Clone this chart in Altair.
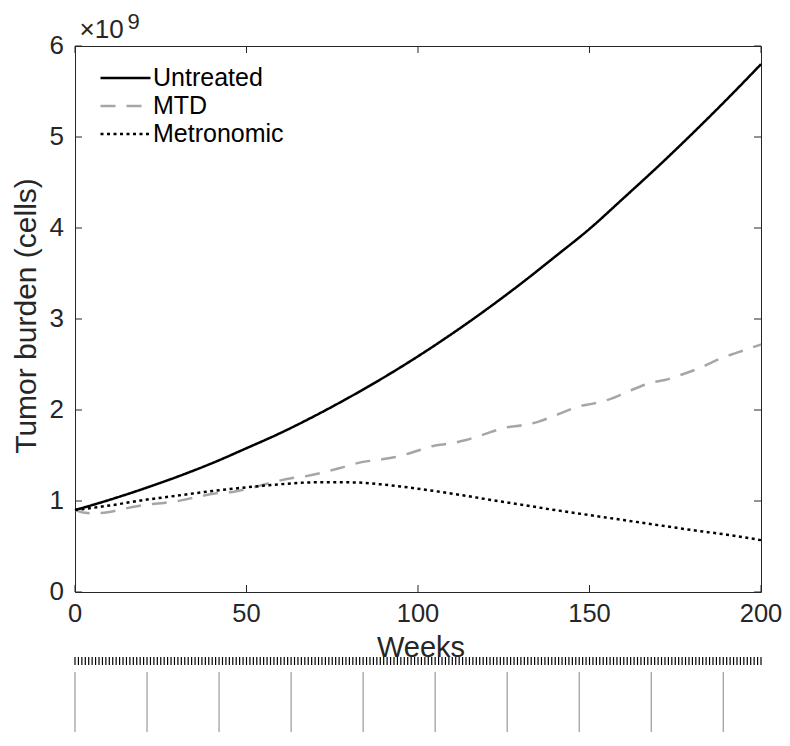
import altair as alt
import pandas as pd

# ---- data (tumor burden in units of 1e9 cells) ----
untreated_weeks = [0, 10, 20, 30, 40, 50, 60, 70, 80, 90, 100,
                   110, 120, 130, 140, 150, 160, 170, 180, 190, 200]
untreated_cells = [0.90, 1.012, 1.135, 1.269, 1.416, 1.58, 1.749, 1.937, 2.14, 2.357, 2.59,
                   2.84, 3.106, 3.388, 3.686, 3.99, 4.331, 4.677, 5.038, 5.412, 5.80]

mtd_weeks = [0, 3, 6, 10, 15, 21, 25, 30, 35, 42, 46, 50, 56, 63, 67, 72, 77, 84, 88, 93, 98,
             105, 109, 114, 119, 126, 130, 135, 140, 147, 151, 156, 161, 168, 172, 177, 182,
             189, 193, 200]
mtd_cells = [0.90, 0.87, 0.865, 0.88, 0.92, 0.96, 0.975, 1.00, 1.04, 1.09, 1.10, 1.13, 1.19,
             1.25, 1.27, 1.31, 1.36, 1.43, 1.45, 1.48, 1.53, 1.61, 1.63, 1.67, 1.73, 1.81,
             1.83, 1.87, 1.94, 2.04, 2.07, 2.12, 2.20, 2.30, 2.33, 2.39, 2.46, 2.58, 2.63, 2.72]

metronomic_weeks = [0, 10, 20, 30, 40, 50, 60, 70, 80, 90, 100,
                    110, 120, 130, 140, 150, 160, 170, 180, 190, 200]
metronomic_cells = [0.90, 0.95, 1.01, 1.06, 1.11, 1.15, 1.185, 1.205, 1.205, 1.18, 1.135,
                    1.08, 1.02, 0.96, 0.90, 0.845, 0.79, 0.735, 0.68, 0.63, 0.57]

series_names = ["Untreated", "MTD", "Metronomic"]
series_colors = ["#000000", "#a6a6a6", "#000000"]

# dosing schedules (weeks)
mtd_dose_weeks = [0, 21, 42, 63, 84, 105, 126, 147, 168, 189]
metronomic_dose_weeks = [
    0, 1, 2, 3, 4, 5, 6, 7, 8, 9, 10, 11, 12, 13, 14, 15, 16, 17, 18, 19,
    20, 21, 22, 23, 24, 25, 26, 27, 28, 29, 30, 31, 32, 33, 34, 35, 36, 37, 38, 39,
    40, 41, 42, 43, 44, 45, 46, 47, 48, 49, 50, 51, 52, 53, 54, 55, 56, 57, 58, 59,
    60, 61, 62, 63, 64, 65, 66, 67, 68, 69, 70, 71, 72, 73, 74, 75, 76, 77, 78, 79,
    80, 81, 82, 83, 84, 85, 86, 87, 88, 89, 90, 91, 92, 93, 94, 95, 96, 97, 98, 99,
    100, 101, 102, 103, 104, 105, 106, 107, 108, 109, 110, 111, 112, 113, 114, 115,
    116, 117, 118, 119, 120, 121, 122, 123, 124, 125, 126, 127, 128, 129, 130, 131,
    132, 133, 134, 135, 136, 137, 138, 139, 140, 141, 142, 143, 144, 145, 146, 147,
    148, 149, 150, 151, 152, 153, 154, 155, 156, 157, 158, 159, 160, 161, 162, 163,
    164, 165, 166, 167, 168, 169, 170, 171, 172, 173, 174, 175, 176, 177, 178, 179,
    180, 181, 182, 183, 184, 185, 186, 187, 188, 189, 190, 191, 192, 193, 194, 195,
    196, 197, 198, 199, 200]

x_ticks = [0, 50, 100, 150, 200]
y_ticks = [0, 1, 2, 3, 4, 5, 6]
x_title = "Weeks"
y_title = "Tumor burden (cells)"
sci_base = "×10"
sci_exp = "9"

# ---- tables ----
rows = []
for name, wk, vals in zip(series_names,
                          [untreated_weeks, mtd_weeks, metronomic_weeks],
                          [untreated_cells, mtd_cells, metronomic_cells]):
    for w, v in zip(wk, vals):
        rows.append({"week": w, "cells": v, "series": name})
df = pd.DataFrame(rows)

W, H = 686, 546
FONT = "Liberation Sans"
AX = "#262626"
TL = 7  # inward tick length

xscale = alt.Scale(domain=[0, 200], nice=False, zero=False)
yscale = alt.Scale(domain=[0, 6], nice=False, zero=True)

legend = alt.Legend(title=None, orient="none", legendX=24, legendY=18,
                    symbolType="stroke", symbolSize=2500, symbolStrokeWidth=2.5,
                    clipHeight=28, labelFontSize=25, labelFont=FONT, labelColor="#000000",
                    labelOffset=1, labelLimit=400, rowPadding=0, padding=0)

lines = alt.Chart(df).mark_line(strokeWidth=2.5, interpolate="monotone").encode(
    x=alt.X("week:Q", scale=xscale, axis=None),
    y=alt.Y("cells:Q", scale=yscale, axis=None),
    color=alt.Color("series:N", scale=alt.Scale(domain=series_names, range=series_colors),
                    legend=legend),
    strokeDash=alt.StrokeDash("series:N",
                              scale=alt.Scale(domain=series_names,
                                              range=[[1, 0], [15, 11], [3, 3.5]]),
                              legend=legend),
)

xt = pd.DataFrame({"week": x_ticks, "label": [str(v) for v in x_ticks]})
yt = pd.DataFrame({"cells": y_ticks, "label": [str(v) for v in y_ticks]})

def xrule(data, y1, y2, color, sw):
    return alt.Chart(data).mark_rule(color=color, strokeWidth=sw).encode(
        x=alt.X("week:Q", scale=xscale, axis=None), y=alt.value(y1), y2=alt.value(y2))

def yrule(data, x1, x2):
    return alt.Chart(data).mark_rule(color=AX, strokeWidth=1).encode(
        y=alt.Y("cells:Q", scale=yscale, axis=None), x=alt.value(x1), x2=alt.value(x2))

bottom_ticks = xrule(xt, H, H - TL, AX, 1)
top_ticks = xrule(xt, 0, TL, AX, 1)
left_ticks = yrule(yt, 0, TL)
right_ticks = yrule(yt, W, W - TL)

# tick labels, placed through the scales
x_labels = alt.Chart(xt).mark_text(
    align="center", baseline="alphabetic", fontSize=25.5, font=FONT, color=AX
).encode(x=alt.X("week:Q", scale=xscale, axis=None), y=alt.value(H + 30), text="label:N")
y_labels = alt.Chart(yt).mark_text(
    align="right", baseline="middle", fontSize=26, font=FONT, color=AX
).encode(y=alt.Y("cells:Q", scale=yscale, axis=None), x=alt.value(-11), text="label:N")

x_title_mark = alt.Chart(pd.DataFrame({"t": [x_title]})).mark_text(
    align="center", baseline="alphabetic", fontSize=29, font=FONT, color=AX
).encode(text="t:N", x=alt.value(W / 2 + 3), y=alt.value(H + 65))
y_title_mark = alt.Chart(pd.DataFrame({"t": [y_title]})).mark_text(
    align="center", baseline="alphabetic", fontSize=30, font=FONT, color=AX, angle=270
).encode(text="t:N", x=alt.value(-39), y=alt.value(H / 2 - 3))

met_doses = xrule(pd.DataFrame({"week": metronomic_dose_weeks}), 611, 619, "#000000", 1.2)
mtd_doses = xrule(pd.DataFrame({"week": mtd_dose_weeks}), 626, 720, "#999999", 1.2)

sci = alt.Chart(pd.DataFrame({"t": [sci_base]})).mark_text(
    align="left", baseline="alphabetic", fontSize=26, font=FONT, color=AX
).encode(text="t:N", x=alt.value(4.5), y=alt.value(-8))
sci9 = alt.Chart(pd.DataFrame({"t": [sci_exp]})).mark_text(
    align="left", baseline="alphabetic", fontSize=22, font=FONT, color=AX
).encode(text="t:N", x=alt.value(52.5), y=alt.value(-17))

chart = alt.layer(
    x_title_mark, mtd_doses, met_doses, bottom_ticks, top_ticks, left_ticks, right_ticks,
    x_labels, y_labels, y_title_mark, lines, sci, sci9
).properties(
    width=W, height=H,
    padding={"left": 67, "top": 38, "right": 21, "bottom": 140},
    autosize=alt.AutoSizeParams(type="none"),
    background="white",
).configure_view(stroke=AX, strokeWidth=1)

chart.save("out.html", embed_options={"renderer": "svg", "actions": False})
